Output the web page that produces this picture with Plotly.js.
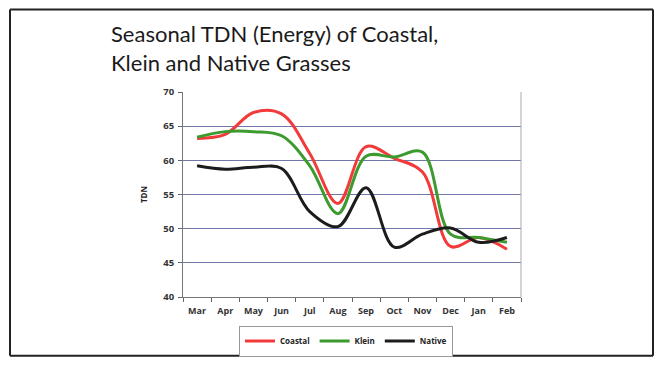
<!DOCTYPE html>
<html><head><meta charset="utf-8">
<script src="https://cdn.plot.ly/plotly-3.0.1.min.js"></script>
<style>html,body{margin:0;padding:0;background:#fff;}#chart{width:662px;height:367px;}</style>
</head><body><div id="chart"></div>
<script>
var months = ["Mar","Apr","May","Jun","Jul","Aug","Sep","Oct","Nov","Dec","Jan","Feb"];
var coastal = [63.2, 63.8, 67.0, 66.8, 61.0, 53.7, 62.0, 60.3, 58.3, 47.4, 48.7, 47.0];
var klein   = [63.4, 64.2, 64.2, 63.6, 59.2, 52.2, 60.6, 60.5, 61.2, 49.2, 48.7, 48.0];
var native  = [59.2, 58.7, 59.0, 58.8, 52.5, 50.3, 56.0, 47.3, 49.2, 50.1, 48.0, 48.7];
var yTicks = [40, 45, 50, 55, 60, 65, 70];

function tr(name, y, color) {
  return {x: months, y: y, name: name, type: 'scatter', mode: 'lines',
    line: {color: color, width: 3, shape: 'spline', smoothing: 1.0}};
}
var data = [tr('Coastal', coastal, '#f23a3a'), tr('Klein', klein, '#3c9a2e'), tr('Native', native, '#1c1c1c')];

var L = 183, R = 521, T = 92, B = 298, W = 662, H = 367;
function px(x){return (x-L)/(R-L);} function py(y){return (B-y)/(B-T);}
function ln(x0,y0,x1,y1){return {type:'line', xref:'paper', yref:'paper', x0:px(x0), x1:px(x1), y0:py(y0), y1:py(y1), line:{color:'#222', width:2}, layer:'above'};}

var layout = {
  width: W, height: H,
  margin: {l: L, r: W-R, t: T, b: H-B, pad: 0},
  paper_bgcolor: '#fff', plot_bgcolor: '#fff',
  showlegend: true,
  font: {family: 'Open Sans, sans-serif', color: '#222'},
  annotations: [{text: 'Seasonal TDN (Energy) of Coastal,<br>Klein and Native Grasses',
    xref: 'paper', yref: 'paper', x: px(109), xanchor: 'left', y: py(48), yanchor: 'middle',
    align: 'left', showarrow: false,
    font: {family: 'Lato, sans-serif', size: 22, color: '#1a1a1a'}}],
  xaxis: {type: 'category', range: [-0.5, 11.5], tickson: 'boundaries', ticks: 'outside', ticklen: 4, tickcolor: '#666',
    tickangle: 0, automargin: false, ticklabelstandoff: 5,
    showline: true, linecolor: '#777', linewidth: 1, showgrid: false, mirror: false,
    tickfont: {family: 'Open Sans, sans-serif', size: 9, color: '#333', weight: 'bold'}},
  yaxis: {range: [40, 70], tickvals: yTicks, ticks: 'outside', ticklen: 4, tickcolor: '#666',
    automargin: false, ticklabelstandoff: 2,
    showline: true, linecolor: '#777', linewidth: 1, gridcolor: '#6f78a8', gridwidth: 1,
    zeroline: false,
    tickfont: {family: 'Open Sans, sans-serif', size: 9.5, color: '#333', weight: 'bold'},
    title: {text: 'TDN', standoff: 14, font: {family: 'Open Sans, sans-serif', size: 8, color: '#222', weight: 'bold'}}},
  legend: {orientation: 'h', x: px(346), xanchor: 'center', y: py(341), yanchor: 'middle',
    bordercolor: '#999', borderwidth: 1, bgcolor: '#fff',
    font: {family: 'Open Sans, sans-serif', size: 8, color: '#222', weight: 'bold'},
    tracegroupgap: 0},
  shapes: [
    ln(10,9,653,9), ln(10,357,653,357), ln(10,9,10,357), ln(653,9,653,357),
    {type: 'line', xref: 'paper', yref: 'paper', x0: 1, x1: 1, y0: 0, y1: 1, line: {color: '#aaa', width: 1}}
  ]
};
Plotly.newPlot('chart', data, layout, {staticPlot: true});
</script></body></html>
